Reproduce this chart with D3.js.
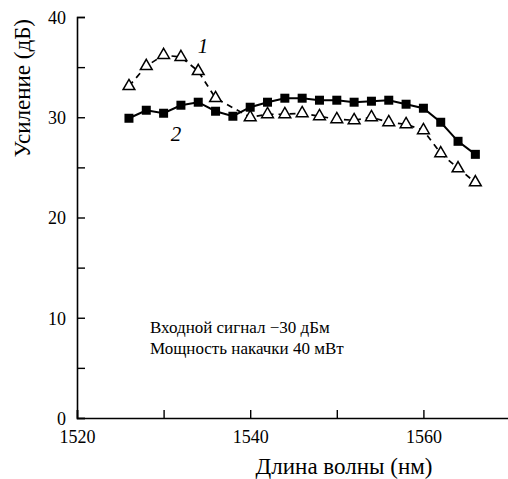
<!DOCTYPE html>
<html>
<head>
<meta charset="utf-8">
<script src="https://cdn.jsdelivr.net/npm/d3@7"></script>
<style>
  body { margin: 0; background: #fff; }
</style>
</head>
<body>
<div id="chart"></div>
<script>
// curve 1 (open triangles, dashed) — the 1538 point sits under a square and is not shown
const wave1 = [1526, 1528, 1530, 1532, 1534, 1536, 1540, 1542, 1544, 1546,
               1548, 1550, 1552, 1554, 1556, 1558, 1560, 1562, 1564, 1566];
const gain1 = [33.1, 35.1, 36.2, 36.0, 34.6, 31.9, 30.0, 30.3, 30.3, 30.4,
               30.1, 29.8, 29.7, 30.0, 29.5, 29.3, 28.7, 26.4, 24.9, 23.5];
// curve 2 (filled squares, solid)
const wave2 = [1526, 1528, 1530, 1532, 1534, 1536, 1538, 1540, 1542, 1544, 1546,
               1548, 1550, 1552, 1554, 1556, 1558, 1560, 1562, 1564, 1566];
const gain2 = [29.9, 30.7, 30.4, 31.2, 31.5, 30.6, 30.1, 31.0, 31.5, 31.9, 31.9,
               31.7, 31.7, 31.5, 31.6, 31.7, 31.3, 30.9, 29.5, 27.6, 26.3];

const xTicks = [1520, 1530, 1540, 1550, 1560];
const xLabels = [1520, 1540, 1560];
const yTicks = [0, 5, 10, 15, 20, 25, 30, 35, 40];
const yLabels = [0, 10, 20, 30, 40];

const FONT = "'Liberation Serif', 'Times New Roman', Tinos, serif";
const width = 508, height = 479;
const svg = d3.select("#chart").append("svg")
    .attr("width", width)
    .attr("height", height);

const x = d3.scaleLinear().domain([1520, 1570]).range([77, 510]);
const y = d3.scaleLinear().domain([0, 40]).range([418, 17]);

// axes, ticks pointing inward
const xAxis = d3.axisBottom(x)
    .tickValues(xTicks)
    .tickSize(-8)
    .tickPadding(12)
    .tickFormat(d => xLabels.includes(d) ? d : "");
const yAxis = d3.axisLeft(y)
    .tickValues(yTicks)
    .tickSize(-8)
    .tickPadding(11)
    .tickFormat(d => yLabels.includes(d) ? d : "");

const gx = svg.append("g").attr("transform", `translate(0,${y(0)})`).call(xAxis);
const gy = svg.append("g").attr("transform", `translate(${x(1520)},0)`).call(yAxis);

[gx, gy].forEach(g => {
    g.attr("font-family", FONT).attr("font-size", 18);
    g.select(".domain").attr("stroke", "#000").attr("stroke-width", 1.6);
    g.selectAll(".tick line").attr("stroke", "#000").attr("stroke-width", 1.4);
    g.selectAll(".tick text")
        .attr("fill", "#000")
        .style("font-family", FONT);
});
gy.selectAll(".tick text").attr("dy", "0.36em");

// axis titles
svg.append("text")
    .attr("x", 344).attr("y", 474)
    .attr("text-anchor", "middle")
    .style("font-family", FONT)
    .attr("font-size", 23)
    .text("Длина волны (нм)");

svg.append("text")
    .attr("transform", "translate(30,19) rotate(-90)")
    .attr("text-anchor", "end")
    .style("font-family", FONT)
    .attr("font-size", 23)
    .text("Усиление (дБ)");

const pts1 = wave1.map((w, i) => ({ w, g: gain1[i] }));
const pts2 = wave2.map((w, i) => ({ w, g: gain2[i] }));

const line = d3.line().x(d => x(d.w)).y(d => y(d.g));

// curve 1: dashed line with open triangles
svg.append("path")
    .datum(pts1)
    .attr("d", line)
    .attr("fill", "none")
    .attr("stroke", "#000")
    .attr("stroke-width", 1.7)
    .attr("stroke-dasharray", "6,5");

const tri = d3.symbol().type(d3.symbolTriangle).size(60);
svg.selectAll(".tri")
    .data(pts1)
    .join("path")
    .attr("class", "tri")
    .attr("d", tri)
    .attr("transform", d => `translate(${x(d.w)},${y(d.g)})`)
    .attr("fill", "#fff")
    .attr("stroke", "#000")
    .attr("stroke-width", 1.5);

// curve 2: solid line with filled squares
svg.append("path")
    .datum(pts2)
    .attr("d", line)
    .attr("fill", "none")
    .attr("stroke", "#000")
    .attr("stroke-width", 2);

svg.selectAll(".sq")
    .data(pts2)
    .join("rect")
    .attr("class", "sq")
    .attr("x", d => x(d.w) - 4.5)
    .attr("y", d => y(d.g) - 4.5)
    .attr("width", 9)
    .attr("height", 9)
    .attr("fill", "#000");

// curve labels
["1", "2"].forEach((t, i) => {
    svg.append("text")
        .attr("x", i ? 176 : 203).attr("y", i ? 141 : 53)
        .attr("text-anchor", "middle")
        .style("font-family", FONT)
        .attr("font-size", 21)
        .attr("font-style", "italic")
        .text(t);
});

// annotation
const note = ["Входной сигнал \u221230 дБм", "Мощность накачки 40 мВт"];
svg.selectAll(".note")
    .data(note)
    .join("text")
    .attr("class", "note")
    .attr("x", 150)
    .attr("y", (d, i) => 333 + i * 21)
    .style("font-family", FONT)
    .attr("font-size", 17)
    .text(d => d);
</script>
</body>
</html>
